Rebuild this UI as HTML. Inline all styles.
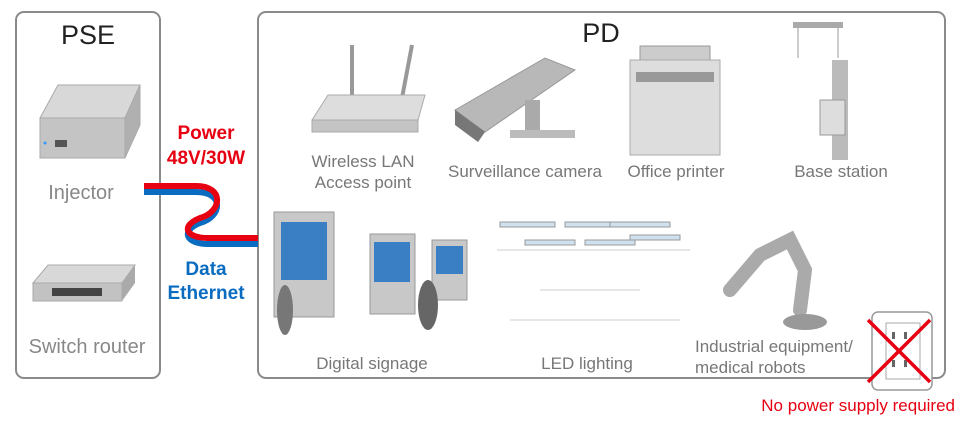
<!DOCTYPE html>
<html><head><meta charset="utf-8"><style>
body{margin:0;background:#fff;width:960px;height:424px;overflow:hidden;font-family:"Liberation Sans",sans-serif}
</style></head><body>
<svg width="960" height="424" xmlns="http://www.w3.org/2000/svg" font-family="Liberation Sans, sans-serif">
<rect x="16" y="12" width="144" height="366" rx="8" fill="none" stroke="#8a8a8a" stroke-width="2"/>
<rect x="258" y="12" width="687" height="366" rx="8" fill="none" stroke="#8a8a8a" stroke-width="2"/>
<text x="88" y="44" font-size="27" text-anchor="middle" fill="#222">PSE</text>
<text x="601" y="42" font-size="27" text-anchor="middle" fill="#222">PD</text>
<!-- injector -->
<polygon points="40,118 58,85 140,85 125,118" fill="#d8d8d8" stroke="#aaa"/>
<polygon points="40,118 125,118 125,158 40,158" fill="#c4c4c4" stroke="#aaa"/>
<polygon points="125,118 140,85 140,125 125,158" fill="#b0b0b0" stroke="#aaa"/>
<rect x="55" y="140" width="12" height="7" fill="#555"/>
<circle cx="45" cy="143" r="1.5" fill="#39f"/>
<text x="81" y="199" font-size="20" text-anchor="middle" fill="#888">Injector</text>
<!-- switch -->
<polygon points="33,283 48,265 135,265 122,283" fill="#d8d8d8" stroke="#aaa"/>
<rect x="33" y="283" width="89" height="18" fill="#c2c2c2" stroke="#aaa"/>
<polygon points="122,283 135,265 135,283 122,301" fill="#aaa"/>
<rect x="52" y="288" width="50" height="8" fill="#444"/>
<text x="87" y="353" font-size="20" text-anchor="middle" fill="#888">Switch router</text>
<!-- cable -->
<path d="M144,187 H196 C225,187 222,212 200,218 C180,226 186,239 208,239 H258" fill="none" stroke="#0a6cc0" stroke-width="6" transform="translate(0,5)"/>
<path d="M144,186 H196 C225,186 222,212 200,218 C180,226 186,238 208,238 H258" fill="none" stroke="#e60012" stroke-width="6"/>
<text x="206" y="139" font-size="19" font-weight="bold" text-anchor="middle" fill="#e60012">Power</text>
<text x="206" y="164" font-size="19" font-weight="bold" text-anchor="middle" fill="#e60012">48V/30W</text>
<text x="206" y="275" font-size="19" font-weight="bold" text-anchor="middle" fill="#0a6cc0">Data</text>
<text x="206" y="299" font-size="19" font-weight="bold" text-anchor="middle" fill="#0a6cc0">Ethernet</text>
<!-- router -->
<line x1="352" y1="45" x2="352" y2="98" stroke="#999" stroke-width="4"/>
<line x1="412" y1="45" x2="402" y2="98" stroke="#999" stroke-width="4"/>
<polygon points="312,120 328,95 425,95 418,120" fill="#ddd" stroke="#aaa"/>
<rect x="312" y="120" width="106" height="12" fill="#c4c4c4" stroke="#aaa"/>
<text x="363" y="167" font-size="17" text-anchor="middle" fill="#777">Wireless LAN</text>
<text x="363" y="188" font-size="17" text-anchor="middle" fill="#777">Access point</text>
<!-- camera -->
<polygon points="455,110 545,58 575,70 485,132" fill="#b8b8b8" stroke="#999"/>
<polygon points="455,110 485,132 478,142 455,125" fill="#777"/>
<rect x="525" y="100" width="15" height="30" fill="#aaa"/>
<rect x="510" y="130" width="65" height="8" fill="#bbb"/>
<text x="525" y="177" font-size="17" text-anchor="middle" fill="#777">Surveillance camera</text>
<!-- printer -->
<rect x="640" y="46" width="70" height="14" fill="#ccc" stroke="#999"/>
<rect x="630" y="60" width="90" height="95" fill="#ddd" stroke="#aaa"/>
<rect x="636" y="72" width="78" height="10" fill="#999"/>
<text x="676" y="177" font-size="17" text-anchor="middle" fill="#777">Office printer</text>
<!-- base station -->
<line x1="798" y1="28" x2="798" y2="58" stroke="#999"/><line x1="838" y1="28" x2="838" y2="58" stroke="#999"/>
<rect x="793" y="22" width="50" height="6" fill="#aaa"/>
<rect x="832" y="60" width="16" height="100" fill="#bbb"/>
<rect x="820" y="100" width="25" height="35" fill="#ddd" stroke="#999"/>
<text x="841" y="177" font-size="17" text-anchor="middle" fill="#777">Base station</text>
<!-- signage -->
<rect x="274" y="212" width="60" height="105" fill="#c8c8c8" stroke="#999"/>
<rect x="281" y="222" width="46" height="58" fill="#3a7fc4"/>
<rect x="370" y="234" width="45" height="80" fill="#c8c8c8" stroke="#999"/>
<rect x="374" y="242" width="36" height="40" fill="#3a7fc4"/>
<rect x="432" y="240" width="35" height="60" fill="#c8c8c8" stroke="#999"/>
<rect x="436" y="246" width="27" height="28" fill="#3a7fc4"/>
<ellipse cx="285" cy="310" rx="8" ry="25" fill="#777"/>
<ellipse cx="428" cy="305" rx="10" ry="25" fill="#666"/>
<text x="372" y="369" font-size="17" text-anchor="middle" fill="#777">Digital signage</text>
<!-- LED -->
<g stroke="#999" fill="#cfe0ef">
<rect x="500" y="222" width="55" height="5"/><rect x="565" y="222" width="55" height="5"/><rect x="610" y="222" width="60" height="5"/>
<rect x="525" y="240" width="50" height="5"/><rect x="585" y="240" width="50" height="5"/><rect x="630" y="235" width="50" height="5"/>
</g>
<path d="M497,250 L690,250 M510,320 L680,320 M540,290 L640,290" stroke="#ccc" fill="none"/>
<text x="587" y="369" font-size="17" text-anchor="middle" fill="#777">LED lighting</text>
<!-- robot -->
<path d="M730,290 L760,255 L790,240 L805,270 L800,310" stroke="#aaa" stroke-width="14" fill="none" stroke-linecap="round"/>
<ellipse cx="805" cy="322" rx="22" ry="8" fill="#999"/>
<text x="695" y="352" font-size="17" fill="#777">Industrial equipment/</text>
<text x="695" y="373" font-size="17" fill="#777">medical robots</text>
<!-- outlet -->
<rect x="872" y="312" width="60" height="78" rx="6" fill="#fff" stroke="#999" stroke-width="1.5"/>
<rect x="886" y="323" width="34" height="56" fill="#fff" stroke="#aaa"/>
<g fill="#666"><rect x="892" y="332" width="3" height="7"/><rect x="904" y="332" width="3" height="7"/><rect x="892" y="360" width="3" height="7"/><rect x="904" y="360" width="3" height="7"/></g>
<path d="M868,320 L930,382 M930,320 L868,382" stroke="#e60012" stroke-width="3.5"/>
<text x="955" y="411" font-size="17" text-anchor="end" fill="#e60012">No power supply required</text>
</svg>
</body></html>
